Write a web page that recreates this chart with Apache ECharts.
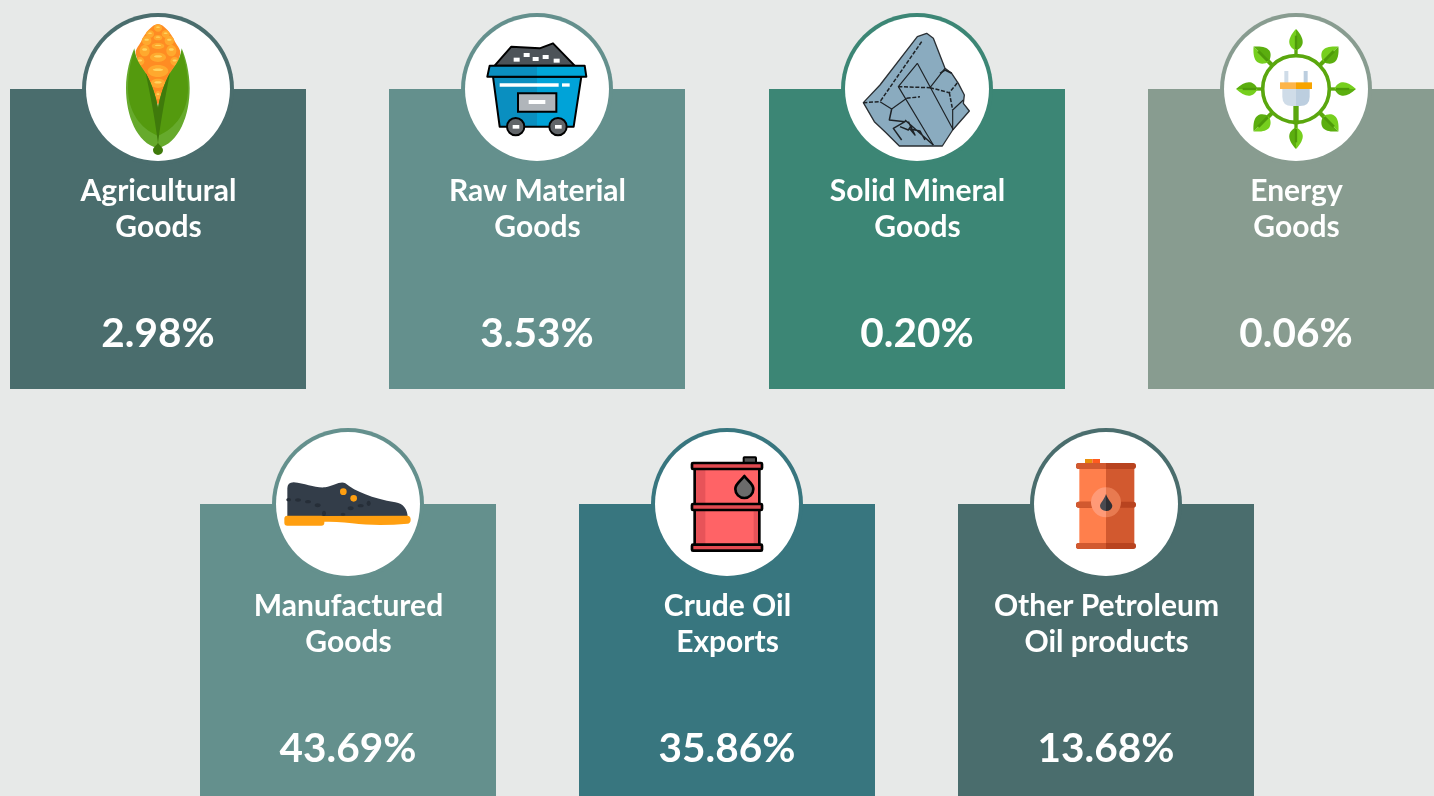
<!DOCTYPE html>
<html lang="en">

<head>
    <meta charset="UTF-8">
    <title>Export shares by goods</title>
    <script src="https://cdn.jsdelivr.net/npm/echarts@6/dist/echarts.min.js"></script>
    <style>
        html, body { margin: 0; padding: 0; background: #e7e9e8; overflow: hidden; }
    </style>
</head>

<body>
    <div id="main" style="width: 1434px;height:796px;"></div>

    <script>
        var categories = ['Agricultural\nGoods', 'Raw Material\nGoods', 'Solid Mineral\nGoods', 'Energy\nGoods',
            'Manufactured\nGoods', 'Crude Oil\nExports', 'Other Petroleum\nOil products'];
        var shares = [2.98, 3.53, 0.20, 0.06, 43.69, 35.86, 13.68];
        // tiles sit on a half-step grid: second row is offset by one column
        var columns = [0, 2, 4, 6, 1, 3, 5];
        var rows = [0, 0, 0, 0, 1, 1, 1];
        var cardColors = ['#4a6d6d', '#64908d', '#3c8675', '#889c90', '#64908d', '#38767f', '#4a6d6d'];

        // small drawing helpers, coordinates are those of the 3x zoom crops
        function path(d, fill, stroke, lw, dash) {
            return {
                type: 'path',
                shape: { pathData: d },
                style: { fill: fill || 'none', stroke: stroke || 'none', lineWidth: lw || 0, lineDash: dash || null, lineJoin: 'round' }
            };
        }
        function rect(x, y, w, h, fill, r, stroke, lw) {
            return {
                type: 'rect',
                shape: { x: x, y: y, width: w, height: h, r: r || 0 },
                style: { fill: fill, stroke: stroke || 'none', lineWidth: lw || 0 }
            };
        }
        function circle(x, y, r, fill, stroke, lw) {
            return {
                type: 'circle',
                shape: { cx: x, cy: y, r: r },
                style: { fill: fill, stroke: stroke || 'none', lineWidth: lw || 0 }
            };
        }
        function ellipse(x, y, rx, ry, fill) {
            return { type: 'ellipse', shape: { cx: x, cy: y, rx: rx, ry: ry }, style: { fill: fill } };
        }

        function cornIcon() {
            var c = [];
            c.push(path('M474 72 C490 72 515 100 525 125 C533 140 545 150 540 165 C530 210 495 270 474 315 C453 270 418 210 408 165 C403 150 415 140 423 125 C433 100 458 72 474 72 Z', '#ff8c23'));
            var kernels = [[474, 84, 12, 11], [450, 102, 12, 11], [497, 102, 12, 11], [474, 113, 13, 8], [440, 122, 14, 14],
                [508, 122, 14, 14], [474, 138, 19, 9], [434, 152, 15, 17], [514, 152, 15, 17], [474, 172, 24, 14],
                [420, 184, 13, 13], [524, 184, 13, 13], [474, 213, 31, 18], [474, 250, 22, 14], [474, 285, 9, 12]];
            kernels.forEach(function (k) {
                c.push(ellipse(k[0], k[1], k[2], k[3], '#ffa92e'));
                c.push(ellipse(k[0], k[1] - k[3] * 0.2, k[2] * 0.5, k[3] * 0.22, '#ffd45e'));
            });
            c.push(path('M474 445 C410 430 378 345 378 265 C378 215 392 170 403 145 C408 185 425 200 437 220 C455 250 468 290 474 325 C480 290 493 250 510 220 C522 200 540 185 545 145 C556 170 569 215 569 265 C569 345 538 430 474 445 Z', '#66aa2c'));
            c.push(path('M474 408 C420 385 384 335 384 265 C384 215 395 175 403 150 C408 185 425 200 437 220 C455 250 468 290 474 325 C480 290 493 250 510 220 C522 200 540 185 545 150 C553 175 564 215 564 265 C564 335 528 385 474 408 Z', '#549a0e'));
            c.push(path('M437 218 C452 245 468 285 474 325 C480 285 495 245 510 218 C498 280 484 350 474 430 C464 350 450 280 437 218 Z', '#3f7a0b'));
            c.push(path('M474 428 C480 438 489 442 489 450 A15 15 0 0 1 459 450 C459 442 468 438 474 428 Z', '#3f7a0b'));
            return c;
        }

        function cartIcon() {
            var c = [];
            c.push(path('M135 182 L185 125 L270 130 L310 115 L375 182 Z', '#4d5358', '#000', 6));
            [[192, 158, 18, 12], [222, 144, 18, 12], [249, 156, 18, 12], [279, 150, 18, 12], [312, 161, 18, 12]].forEach(function (b) {
                c.push(rect(b[0], b[1], b[2], b[3], '#fff'));
            });
            c.push(path('M130 215 L262 215 L262 365 L150 365 Z', '#0a8fc0'));
            c.push(path('M262 215 L395 215 L372 365 L262 365 Z', '#00a3d8'));
            c.push(path('M130 215 L395 215 L372 365 L150 365 Z', 'none', '#000', 6));
            c.push(path('M120 182 L262 182 L262 215 L113 215 Z', '#0a8fc0'));
            c.push(path('M262 182 L405 182 L410 215 L262 215 Z', '#00a7d8'));
            c.push(path('M120 182 L405 182 L410 215 L113 215 Z', 'none', '#000', 6));
            c.push(rect(150, 235, 177, 10, '#fff'));
            c.push(rect(337, 235, 23, 10, '#fff'));
            c.push(rect(205, 265, 115, 55, '#b0b5ba', 0, '#000', 6));
            c.push(rect(237, 285, 50, 12, '#fff'));
            c.push(circle(198, 365, 26, '#616569', '#000', 6));
            c.push(circle(325, 365, 26, '#616569', '#000', 6));
            c.push(rect(189, 360, 20, 11, '#fff'));
            c.push(rect(316, 360, 20, 11, '#fff'));
            return c;
        }

        function rockIcon() {
            var c = [];
            c.push(path('M100 293 L150 240 L262 95 L290 85 L310 100 L345 190 L365 205 L385 235 L403 270 L400 295 L418 318 L368 375 L337 423 L208 423 L165 380 L133 350 Z', '#8aabbf', '#2a2f33', 4));
            var dark = '#1e2327';
            c.push(path('M275 110 L150 290 M205 245 L300 248 M300 248 L358 263 L385 230 M358 263 L368 315 M100 293 L150 290 M230 280 L270 275', 'none', dark, 4.5, [12, 5]));
            c.push(path('M262 175 L370 375 M262 175 L205 245 L310 420 M300 248 L345 190 M368 375 L368 315 L400 285 M150 290 L185 312 L230 280', 'none', dark, 3.5));
            c.push(path('M185 312 L178 345 L225 350 L190 370 L215 405 M225 345 L310 420 M235 350 L255 390 L240 372 L270 378 L285 405 M210 365 L235 375 L245 360', 'none', dark, 4.5));
            c.push(path('M330 205 L345 195 L365 205', 'none', dark, 5));
            return c;
        }

        function leaf(k) {
            return {
                type: 'group',
                x: 258,
                y: 252,
                rotation: k * Math.PI / 4,
                scaleX: k % 2 ? 1.25 : 1,
                children: [
                    rect(-5, -125, 10, 25, '#5aa70e'),
                    path('M0 -180 C-14 -165 -22 -150 -20 -138 C-18 -126 -8 -118 0 -116 Z', '#76cf1e'),
                    path('M0 -180 C14 -165 22 -150 20 -138 C18 -126 8 -118 0 -116 Z', '#5bae0f'),
                    rect(-3.5, -160, 7, 40, '#4e9a0a')
                ]
            };
        }

        function plugIcon() {
            var c = [];
            for (var k = 0; k < 8; k++) {
                c.push(leaf(k));
            }
            c.push(circle(258, 252, 100, '#fff', '#5aa70e', 11));
            c.push(rect(250, 303, 16, 55, '#5aa70e'));
            c.push(rect(223, 198, 12, 36, '#cfdce8'));
            c.push(rect(281, 198, 12, 36, '#bccedf'));
            c.push(path('M217 252 L258 252 L258 303 L246 303 Q217 303 217 275 Z', '#cfdce8'));
            c.push(path('M258 252 L299 252 L299 275 Q299 303 270 303 L258 303 Z', '#bccedf'));
            c.push(rect(210, 232, 48, 20, '#fdb54a'));
            c.push(rect(258, 232, 48, 20, '#f7a400'));
            return c;
        }

        function shoeIcon() {
            var c = [];
            c.push(path('M76 290 L76 205 Q76 187 95 187 C130 190 160 205 190 202 C215 198 235 182 250 190 C280 215 330 235 400 247 C425 250 437 270 437 292 Z', '#333d49'));
            [[80, 239, 7, 5], [108, 240, 9, 5], [138, 245, 9, 5], [167, 256, 9, 6], [186, 280, 6, 8], [243, 283, 7, 5], [266, 265, 9, 6], [296, 257, 9, 5], [320, 250, 6, 8]].forEach(function (s) {
                c.push(ellipse(s[0], s[1], s[2], s[3], '#262e38'));
            });
            c.push(circle(244, 215, 10, '#ff9f10'));
            c.push(circle(275, 235, 10, '#ff9f10'));
            c.push(rect(67, 287, 120, 30, '#ff9f10', 9));
            c.push(path('M175 288 L436 287 Q446 287 446 299 Q446 310 436 311 C380 316 320 316 270 310 C240 306 210 305 175 305 Z', '#ff9f10'));
            return c;
        }

        function drumIcon() {
            var c = [];
            c.push(rect(305, 112, 37, 20, '#555', 2, '#000', 6));
            c.push(rect(160, 145, 190, 235, '#ff6366'));
            c.push(rect(160, 150, 30, 100, '#e75359'));
            c.push(rect(160, 270, 30, 105, '#e75359'));
            c.push(rect(335, 270, 15, 105, '#e75359'));
            c.push(rect(158, 145, 194, 235, 'none', 0, '#000', 8));
            [138, 261, 383].forEach(function (y) {
                c.push(rect(150, y - 9, 210, 18, '#e14a50', 3, '#000', 8));
            });
            c.push(path('M307 168 C295 185 280 190 280 207 A27 27 0 0 0 334 207 C334 190 319 185 307 168 Z', '#6b6b6b', '#000', 8));
            return c;
        }

        function barrelIcon() {
            var c = [];
            c.push(rect(195, 117, 22, 13, '#e8900c'));
            c.push(rect(217, 117, 23, 13, '#ff5a1f'));
            c.push(rect(178, 140, 80, 230, '#ff7f4c'));
            c.push(rect(258, 140, 85, 230, '#d2592f'));
            [129, 245, 369].forEach(function (y) {
                c.push(rect(168, y, 180, 18, '#b8431f', 8));
                c.push(path('M258 ' + y + ' L176 ' + y + ' Q168 ' + y + ' 168 ' + (y + 9) + ' Q168 ' + (y + 18) + ' 176 ' + (y + 18) + ' L258 ' + (y + 18) + ' Z', '#d2592f'));
            });
            c.push(path('M258 202 A45 45 0 0 0 258 292 Z', '#ff9a77'));
            c.push(path('M258 202 A45 45 0 0 1 258 292 Z', '#e87a50'));
            c.push(path('M258 222 C252 240 240 250 240 258 A18 16 0 0 0 258 273 Z', '#4a4a50'));
            c.push(path('M258 222 C264 240 277 250 277 258 A18 16 0 0 1 258 273 Z', '#2e2e33'));
            return c;
        }

        // one icon per tile with the centre of its white disc in crop coordinates
        var icons = [
            { draw: cornIcon, cx: 474, cy: 267 },
            { draw: cartIcon, cx: 262, cy: 252 },
            { draw: rockIcon, cx: 261, cy: 252 },
            { draw: plugIcon, cx: 258, cy: 252 },
            { draw: shoeIcon, cx: 258, cy: 252 },
            { draw: drumIcon, cx: 255, cy: 252 },
            { draw: barrelIcon, cx: 258, cy: 252 }
        ];

        var tileData = categories.map(function (name, i) {
            return [columns[i], rows[i], shares[i]];
        });

        function renderTile(params, api) {
            var i = params.dataIndex;
            var p = api.coord([api.value(0), api.value(1)]);
            var icon = icons[i];
            return {
                type: 'group',
                x: Math.round(p[0]),
                y: Math.round(p[1]),
                children: [
                    rect(-148, 0, 296, 300, cardColors[i]),
                    circle(0, 0, 76, cardColors[i]),
                    circle(0, 0, 72, '#fff'),
                    {
                        type: 'group',
                        x: -icon.cx / 3,
                        y: -icon.cy / 3,
                        scaleX: 1 / 3,
                        scaleY: 1 / 3,
                        children: icon.draw()
                    },
                    {
                        type: 'text',
                        style: {
                            x: 0.5, y: 120, text: categories[i], fill: '#fff', align: 'center', verticalAlign: 'middle',
                            fontFamily: 'Lato', fontSize: 30, fontWeight: 700, lineHeight: 36
                        }
                    },
                    {
                        type: 'text',
                        style: {
                            x: 0, y: 245, text: api.value(2).toFixed(2) + '%', fill: '#fff', align: 'center', verticalAlign: 'middle',
                            fontFamily: 'Lato', fontSize: 40.5, fontWeight: 700
                        }
                    }
                ]
            };
        }

        var myChart = echarts.init(document.getElementById('main'));

        var option = {
            backgroundColor: '#e7e9e8',
            animation: false,
            grid: { left: 158, top: 89, width: 1138, height: 415 },
            xAxis: { type: 'value', min: 0, max: 6, show: false },
            yAxis: { type: 'value', min: 0, max: 1, inverse: true, show: false },
            series: [{
                type: 'custom',
                coordinateSystem: 'cartesian2d',
                clip: false,
                silent: true,
                encode: { x: 0, y: 1 },
                data: tileData,
                renderItem: renderTile
            }]
        };

        myChart.setOption(option);
    </script>
</body>

</html>
